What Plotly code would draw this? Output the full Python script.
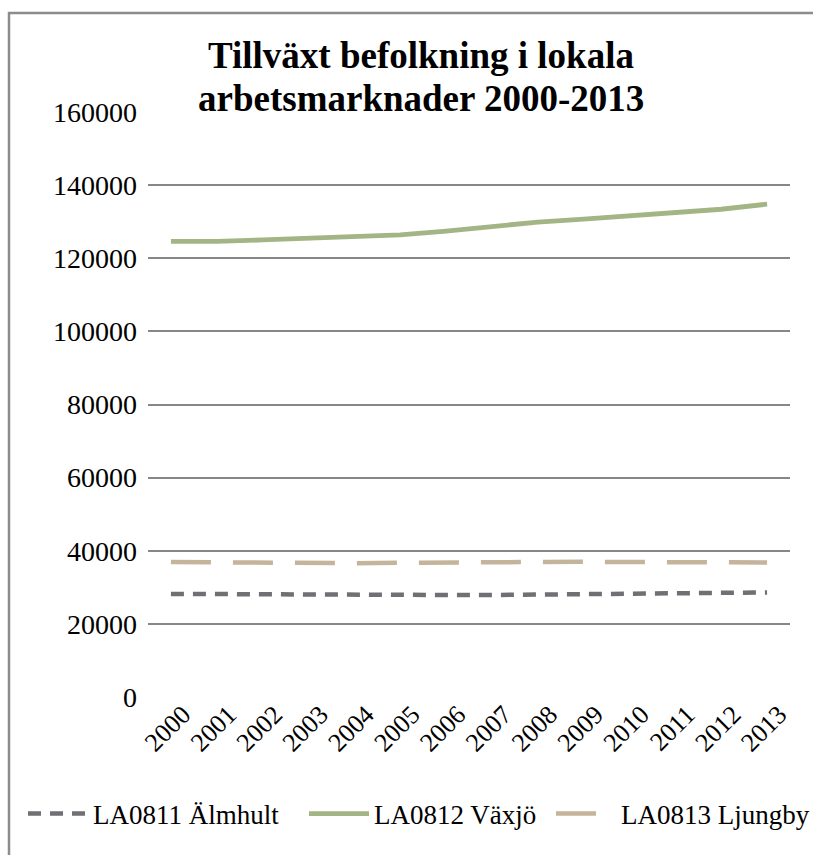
import plotly.graph_objects as go

years = [str(y) for y in range(2000, 2014)]
almhult = [28200, 28100, 28000, 28000, 27900, 27800, 27900, 27900, 28000, 28200, 28400, 28400, 28500, 28600]
vaxjo = [124600, 124600, 125000, 125500, 126200, 126400, 127400, 128600, 129900, 130700, 131500, 132400, 133400, 134800]
ljungby = [36900, 36800, 36500, 36500, 36600, 36700, 36800, 37000, 37100, 37000, 36900, 36900, 36800, 36800]
names = ["LA0811 Älmhult", "LA0812 Växjö", "LA0813 Ljungby"]
yticks = [0, 20000, 40000, 60000, 80000, 100000, 120000, 140000, 160000]
title_lines = ["Tillväxt befolkning i lokala", "arbetsmarknader 2000-2013"]

W, H = 813, 855
L, R, T, B = 148, 23, 112, 158
pw, ph = W - L - R, H - T - B

FONT = "Liberation Serif"

def px_x(px):
    return (px - L) / pw

def px_y(py):
    return (H - B - py) / ph

fig = go.Figure()
fig.add_trace(go.Scatter(x=years, y=almhult, name=names[0], mode="lines", legend="legend",
                         line=dict(color="#6f6f74", width=4.5, dash="13px,9px")))
fig.add_trace(go.Scatter(x=years, y=vaxjo, name=names[1], mode="lines", legend="legend2",
                         line=dict(color="#a4b585", width=4.8)))
fig.add_trace(go.Scatter(x=years, y=ljungby, name=names[2], mode="lines", legend="legend3",
                         line=dict(color="#c4b49b", width=4.5, dash="40px,22px")))

shapes = [dict(type="rect", xref="paper", yref="paper",
               x0=px_x(9), x1=px_x(830), y0=px_y(870), y1=px_y(13),
               line=dict(color="#8c8c8c", width=2.5), fillcolor="rgba(0,0,0,0)", layer="below")]

annotations = [
    dict(text="<b>" + title_lines[0] + "</b>", xref="paper", yref="paper", x=px_x(421), y=px_y(56),
         xanchor="center", yanchor="middle", showarrow=False, font=dict(family=FONT, size=37, color="black")),
    dict(text="<b>" + title_lines[1] + "</b>", xref="paper", yref="paper", x=px_x(421), y=px_y(98),
         xanchor="center", yanchor="middle", showarrow=False, font=dict(family=FONT, size=37, color="black")),
]

def leg(xpx):
    return dict(orientation="h", xref="paper", yref="paper", x=px_x(xpx), y=px_y(814),
                xanchor="left", yanchor="middle", font=dict(family=FONT, size=27, color="black"),
                itemwidth=60, bgcolor="rgba(0,0,0,0)", borderwidth=0)

fig.update_layout(
    width=W, height=H,
    margin=dict(l=L, r=R, t=T, b=B, autoexpand=False),
    paper_bgcolor="white", plot_bgcolor="white",
    font=dict(family=FONT, size=26, color="black"),
    showlegend=True,
    legend=leg(23),
    legend2=leg(304),
    legend3=leg(551),
    shapes=shapes,
    annotations=annotations,
    xaxis=dict(type="category", tickangle=-45, showgrid=False, showline=False, ticks="",
               tickfont=dict(family=FONT, size=26), range=[-0.5, 13.5], zeroline=False,
               ticklabelstandoff=-4, ticklabelshift=12),
    yaxis=dict(range=[0, 160000], tickvals=yticks, ticktext=[str(v) for v in yticks],
               showgrid=True, gridcolor="#878787", gridwidth=1.8, zeroline=False,
               showline=False, ticks="", tickfont=dict(family=FONT, size=28), ticklabelstandoff=10),
)

fig.write_html("out.html", config={"displayModeBar": False},
               post_script="document.body.style.margin='0';document.body.style.overflow='hidden';")
